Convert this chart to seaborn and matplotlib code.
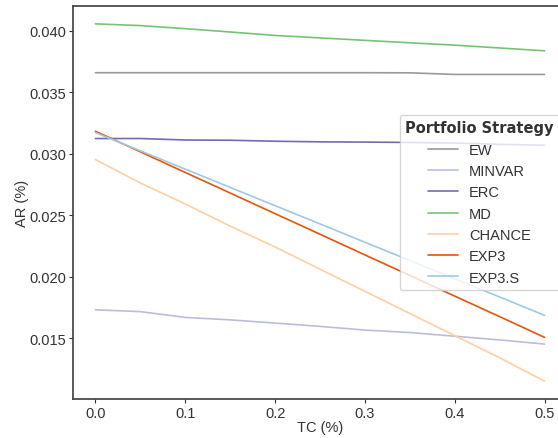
import matplotlib
matplotlib.use("Agg")
import matplotlib.pyplot as plt
import seaborn as sns
import pandas as pd

tc = [0.0, 0.05, 0.1, 0.15, 0.2, 0.25, 0.3, 0.35, 0.4, 0.45, 0.5]
strategies = ["EW", "MINVAR", "ERC", "MD", "CHANCE", "EXP3", "EXP3.S"]
ew = [0.03657, 0.03657, 0.03657, 0.03657, 0.03657, 0.03657, 0.03657, 0.03656, 0.03643, 0.03643, 0.03643]
minvar = [0.0173, 0.01715, 0.01668, 0.01648, 0.01622, 0.01595, 0.01565, 0.01545, 0.01515, 0.01485, 0.01451]
erc = [0.03122, 0.03122, 0.03110, 0.03108, 0.03100, 0.03095, 0.03093, 0.03090, 0.03085, 0.03075, 0.03067]
md = [0.04054, 0.04040, 0.04015, 0.03988, 0.03960, 0.03940, 0.03920, 0.03900, 0.03881, 0.03858, 0.03835]
chance = [0.02951, 0.0276, 0.0259, 0.0241, 0.0224, 0.0206, 0.0188, 0.0170, 0.0152, 0.0134, 0.0115]
exp3 = [0.03181, 0.03014, 0.02846, 0.02679, 0.02511, 0.02344, 0.02176, 0.02009, 0.01841, 0.01674, 0.01506]
exp3s = [0.03170, 0.03022, 0.02873, 0.02725, 0.02576, 0.02428, 0.02279, 0.02131, 0.01982, 0.01834, 0.01685]

colors = ["#9a9a9a", "#bcbddc", "#756bb1", "#74c476", "#fdd0a2", "#e6550d", "#9ecae1"]

series = [ew, minvar, erc, md, chance, exp3, exp3s]
rows = []
for name, vals in zip(strategies, series):
    for x, v in zip(tc, vals):
        rows.append({"TC (%)": x, "AR (%)": v, "Portfolio Strategy": name})
df = pd.DataFrame(rows)

sns.set_theme(style="ticks")
plt.rcParams["font.family"] = ["Liberation Sans", "DejaVu Sans"]
plt.rcParams["text.color"] = "#333333"
plt.rcParams["axes.labelcolor"] = "#333333"
plt.rcParams["xtick.color"] = "#333333"
plt.rcParams["ytick.color"] = "#333333"

fig = plt.figure(figsize=(5.58, 4.39), dpi=100)
ax = fig.add_axes([73 / 558, (439 - 400) / 439, (567 - 73) / 558, (400 - 7) / 439])

sns.lineplot(data=df, x="TC (%)", y="AR (%)", hue="Portfolio Strategy",
             palette=dict(zip(strategies, colors)), hue_order=strategies,
             linewidth=1.2, ax=ax)

ax.set_xticks([0.0, 0.1, 0.2, 0.3, 0.4, 0.5])
ax.set_yticks([0.015, 0.020, 0.025, 0.030, 0.035, 0.040])
ax.tick_params(labelsize=10.5, length=3, pad=2, width=0.8)
ax.set_xlabel("TC (%)", fontsize=10.5, labelpad=0)
ax.set_ylabel("AR (%)", fontsize=10.5, labelpad=0)
for s in ax.spines.values():
    s.set_color("#444444")

leg = ax.legend(title="Portfolio Strategy", loc="center right", fontsize=10.5,
                title_fontproperties={"weight": "bold", "size": 10.5, "family": "DejaVu Sans"})

fig.savefig("out.png", dpi=100)
